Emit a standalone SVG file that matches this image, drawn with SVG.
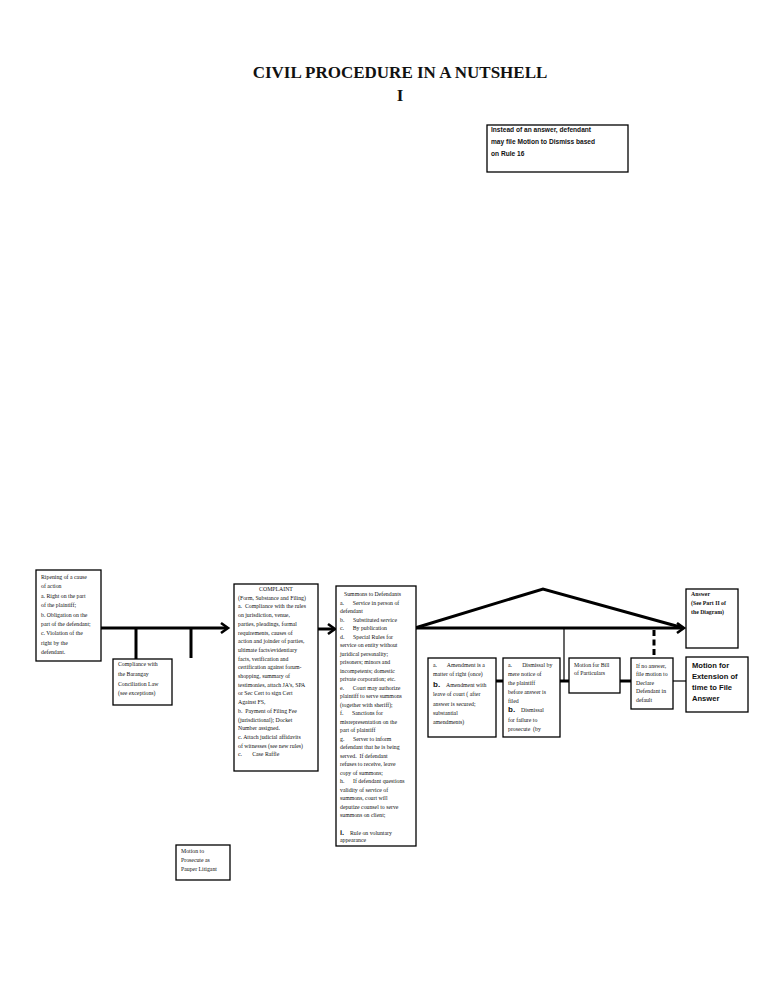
<svg xmlns="http://www.w3.org/2000/svg" width="768" height="1006" viewBox="0 0 768 1006">
<style>
.bg{fill:#fff}
.box{fill:#fff;stroke:#000;stroke-width:1.3}
text{white-space:pre}
.t{font-family:"Liberation Serif","Times New Roman",serif;font-size:5.8px;fill:#111}
.tb{font-family:"Liberation Serif","Times New Roman",serif;font-size:5.8px;font-weight:bold;fill:#111}
.s{font-family:"Liberation Sans",Arial,sans-serif;font-weight:bold;fill:#111}
.title{font-family:"Liberation Serif","Times New Roman",serif;font-size:17px;font-weight:bold;fill:#111}
.ln{stroke:#000;stroke-width:3;fill:none}
.thin{stroke:#000;stroke-width:1.2;fill:none}
.ah{stroke:#000;stroke-width:2.6;fill:none;stroke-linejoin:miter}
</style>
<rect class="bg" x="0" y="0" width="768" height="1006"/>
<g id="title">
<text class="title" x="400" y="78" text-anchor="middle">CIVIL PROCEDURE IN A NUTSHELL</text>
<text class="title" x="400" y="101" text-anchor="middle">I</text>
</g>
<g id="connectors">
<line class="ln" x1="101" y1="628" x2="227" y2="628"/>
<polyline class="ah" points="221,623 228,628 221,633"/>
<line class="ln" x1="136" y1="628" x2="136" y2="659"/>
<line class="ln" x1="191" y1="628" x2="191" y2="658"/>
<line class="ln" x1="318" y1="629" x2="333" y2="629"/>
<polyline class="ah" points="328,624 335,629 328,634"/>
<line class="ln" x1="416" y1="628" x2="682" y2="628"/>
<polyline class="ah" points="677,623 684,628 677,633"/>
<polyline class="ln" points="415,628 543,589 680,627" stroke-width="2.5"/>
<line class="thin" x1="564" y1="628" x2="564" y2="681"/>
<line class="ln" x1="654" y1="630" x2="654" y2="658" stroke-dasharray="6,3.5"/>
<line class="ln" x1="496" y1="681" x2="503" y2="681"/>
<line class="ln" x1="560" y1="681" x2="569" y2="681"/>
<line class="ln" x1="620" y1="681" x2="631" y2="681"/>
<line class="thin" x1="673" y1="681" x2="686" y2="681"/>
</g>
<g id="motion-dismiss">
<rect class="box" x="487" y="125" width="141" height="47"/>
<text class="s" font-size="6.6" x="491" y="132">Instead of an answer, defendant</text>
<text class="s" font-size="6.6" x="491" y="144">may file Motion to Dismiss based</text>
<text class="s" font-size="6.6" x="491" y="156">on Rule 16</text>
</g>
<g id="ripening">
<rect class="box" x="36" y="570" width="65" height="91"/>
<text class="t" x="41" y="579">Ripening of a cause</text>
<text class="t" x="41" y="588">of action</text>
<text class="t" x="41" y="598">a. Right on the part</text>
<text class="t" x="41" y="607">of the plaintiff;</text>
<text class="t" x="41" y="617">b. Obligation on the</text>
<text class="t" x="41" y="626">part of the defendant;</text>
<text class="t" x="41" y="635">c. Violation of the</text>
<text class="t" x="41" y="645">right by the</text>
<text class="t" x="41" y="654">defendant.</text>
</g>
<g id="compliance">
<rect class="box" x="113" y="659" width="59" height="46"/>
<text class="t" x="118" y="666">Compliance with</text>
<text class="t" x="118" y="676">the Barangay</text>
<text class="t" x="118" y="686">Conciliation Law</text>
<text class="t" x="118" y="695">(see exceptions)</text>
</g>
<g id="complaint">
<rect class="box" x="234" y="584" width="84" height="187"/>
<text class="t" x="276" y="591" text-anchor="middle">COMPLAINT</text>
<text class="t" x="238" y="599.7">(Form, Substance and Filing)</text>
<text class="t" x="238" y="608.4">a.  Compliance with the rules</text>
<text class="t" x="238" y="617.1">on jurisdiction, venue,</text>
<text class="t" x="238" y="625.8">parties, pleadings, formal</text>
<text class="t" x="238" y="634.5">requirements, causes of</text>
<text class="t" x="238" y="643.2">action and joinder of parties,</text>
<text class="t" x="238" y="651.9">ultimate facts/evidentiary</text>
<text class="t" x="238" y="660.6">facts, verification and</text>
<text class="t" x="238" y="669.3">certification against forum-</text>
<text class="t" x="238" y="678">shopping, summary of</text>
<text class="t" x="238" y="686.7">testimonies, attach JA’s, SPA</text>
<text class="t" x="238" y="695.4">or Sec Cert to sign Cert</text>
<text class="t" x="238" y="704.1">Against FS,</text>
<text class="t" x="238" y="712.8">b.  Payment of Filing Fee</text>
<text class="t" x="238" y="721.5">(jurisdictional); Docket</text>
<text class="t" x="238" y="730.2">Number assigned.</text>
<text class="t" x="238" y="738.9">c. Attach judicial affidavits</text>
<text class="t" x="238" y="747.6">of witnesses (see new rules)</text>
<text class="t" x="238" y="756.3">c.       Case Raffle</text>
</g>
<g id="summons">
<rect class="box" x="336" y="586" width="80" height="260"/>
<text class="t" x="344" y="596">Summons to Defendants</text>
<text class="t" x="340" y="604.5">a.      Service in person of</text>
<text class="t" x="340" y="613">defendant</text>
<text class="t" x="340" y="621.5">b.      Substituted service</text>
<text class="t" x="340" y="630">c.      By publication</text>
<text class="t" x="340" y="638.5">d.      Special Rules for</text>
<text class="t" x="340" y="647">service on entity without</text>
<text class="t" x="340" y="655.5">juridical personality;</text>
<text class="t" x="340" y="664">prisoners; minors and</text>
<text class="t" x="340" y="672.5">incompetents; domestic</text>
<text class="t" x="340" y="681">private corporation; etc.</text>
<text class="t" x="340" y="689.5">e.      Court may authorize</text>
<text class="t" x="340" y="698">plaintiff to serve summons</text>
<text class="t" x="340" y="706.5">(together with sheriff);</text>
<text class="t" x="340" y="715">f.      Sanctions for</text>
<text class="t" x="340" y="723.5">misrepresentation on the</text>
<text class="t" x="340" y="732">part of plaintiff</text>
<text class="t" x="340" y="740.5">g.      Server to inform</text>
<text class="t" x="340" y="749">defendant that he is being</text>
<text class="t" x="340" y="757.5">served.  If defendant</text>
<text class="t" x="340" y="766">refuses to receive, leave</text>
<text class="t" x="340" y="774.5">copy of summons;</text>
<text class="t" x="340" y="783">h.      If defendant questions</text>
<text class="t" x="340" y="791.5">validity of service of</text>
<text class="t" x="340" y="800">summons, court will</text>
<text class="t" x="340" y="808.5">deputize counsel to serve</text>
<text class="t" x="340" y="817">summons on client;</text>
<text class="s" font-size="7.5" x="340" y="835">i.</text>
<text class="t" x="350" y="835">Rule on voluntary</text>
<text class="t" x="340" y="842" font-size="3">appearance</text>
</g>
<g id="amendment">
<rect class="box" x="428" y="658" width="68" height="79"/>
<text class="t" x="433" y="667">a.       Amendment is a</text>
<text class="t" x="433" y="676">matter of right (once)</text>
<text class="s" font-size="8" x="433" y="687">b.</text>
<text class="t" x="446" y="687">Amendment with</text>
<text class="t" x="433" y="696">leave of court ( after</text>
<text class="t" x="433" y="705.5">answer is secured;</text>
<text class="t" x="433" y="714.5">substantial</text>
<text class="t" x="433" y="724">amendments)</text>
</g>
<g id="dismissal">
<rect class="box" x="503" y="658" width="57" height="79"/>
<text class="t" x="508" y="667">a.       Dismissal by</text>
<text class="t" x="508" y="676">mere notice of</text>
<text class="t" x="508" y="685">the plaintiff</text>
<text class="t" x="508" y="693.5">before answer is</text>
<text class="t" x="508" y="702.5">filed</text>
<text class="s" font-size="8" x="508" y="712">b.</text>
<text class="t" x="521" y="712">Dismissal</text>
<text class="t" x="508" y="721.5">for failure to</text>
<text class="t" x="508" y="731">prosecute  (by</text>
</g>
<g id="bill-particulars">
<rect class="box" x="569" y="658" width="51" height="35"/>
<text class="t" x="574" y="667">Motion for Bill</text>
<text class="t" x="574" y="675">of Particulars</text>
</g>
<g id="default">
<rect class="box" x="631" y="658" width="42" height="51"/>
<text class="t" x="636" y="667.5">If no answer,</text>
<text class="t" x="636" y="676">file motion to</text>
<text class="t" x="636" y="684.5">Declare</text>
<text class="t" x="636" y="693">Defendant in</text>
<text class="t" x="636" y="701.5">default</text>
</g>
<g id="extension">
<rect class="box" x="686" y="657" width="62" height="55"/>
<text class="s" font-size="7.6" x="692" y="668">Motion for</text>
<text class="s" font-size="7.6" x="692" y="679">Extension of</text>
<text class="s" font-size="7.6" x="692" y="690">time to File</text>
<text class="s" font-size="7.6" x="692" y="701">Answer</text>
</g>
<g id="answer">
<rect class="box" x="686" y="589" width="52" height="59"/>
<text class="tb" x="691" y="596">Answer</text>
<text class="tb" x="691" y="605">(See Part II of</text>
<text class="tb" x="691" y="614">the Diagram)</text>
</g>
<g id="pauper">
<rect class="box" x="176" y="845" width="54" height="35"/>
<text class="t" x="181" y="853">Motion to</text>
<text class="t" x="181" y="862">Prosecute as</text>
<text class="t" x="181" y="871">Pauper Litigant</text>
</g>
</svg>
